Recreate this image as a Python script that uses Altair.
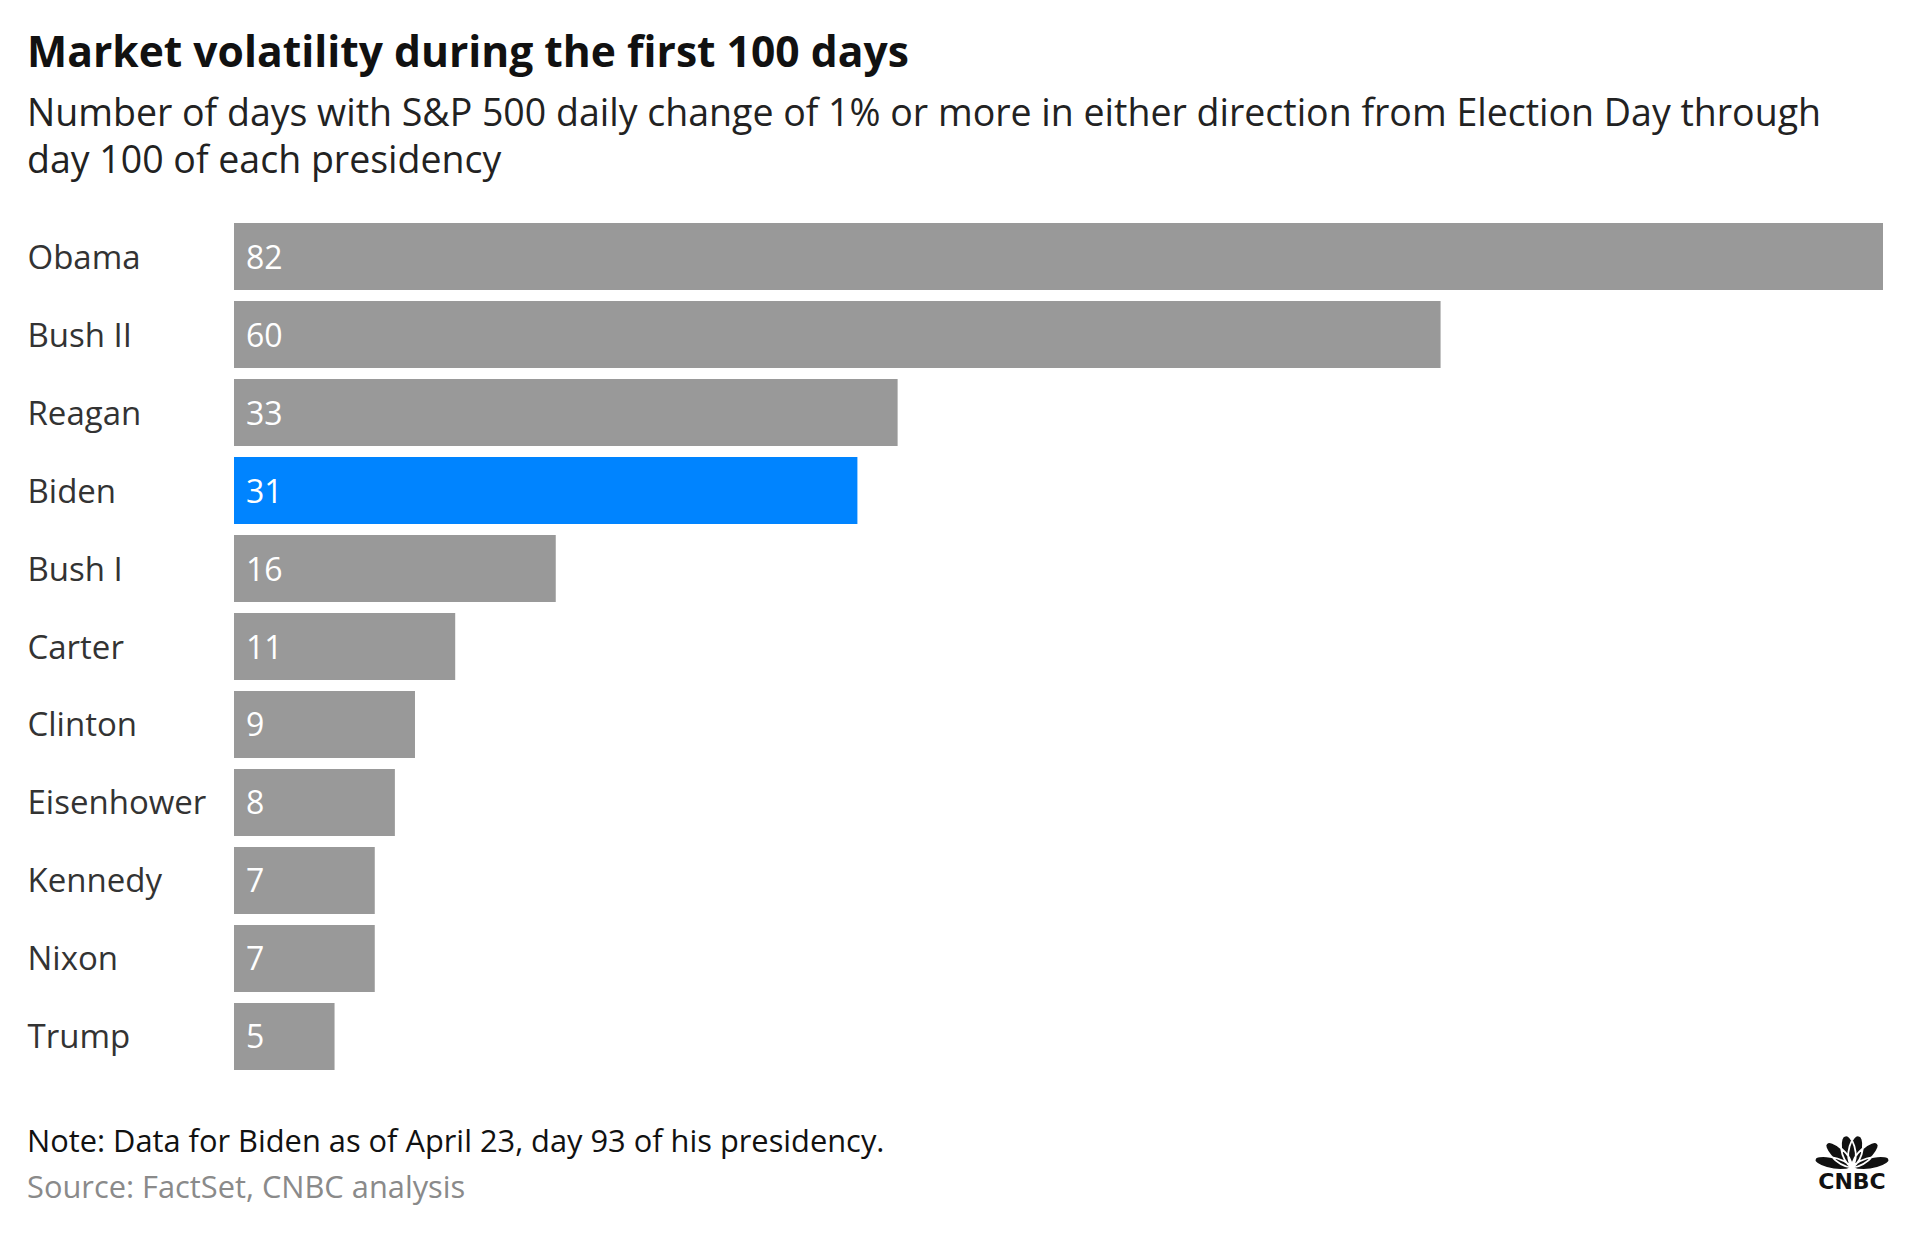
import math
import altair as alt
import pandas as pd

# ---- data ----
presidents = ["Obama", "Bush II", "Reagan", "Biden", "Bush I", "Carter",
              "Clinton", "Eisenhower", "Kennedy", "Nixon", "Trump"]
days = [82, 60, 33, 31, 16, 11, 9, 8, 7, 7, 5]
highlight = ["Biden"]

title_text = "Market volatility during the first 100 days"
subtitle_lines = [
    "Number of days with S&P 500 daily change of 1% or more in either direction from Election Day through",
    "day 100 of each presidency",
]
note_text = "Note: Data for Biden as of April 23, day 93 of his presidency."
source_text = "Source: FactSet, CNBC analysis"
logo_text = "CNBC"

df = pd.DataFrame({"president": presidents, "days": days})
df["is_hl"] = df["president"].isin(highlight)

FONT = "Open Sans"
W, H = 1649, 847
LABEL_PAD = 207


def peacock_path():
    # decorative logo glyph (unit box), six feathers fanning from a base point
    angles = [165, 131, 100, 80, 49, 15]
    parts = []
    bx, by = 0.0, 0.5
    ys = 0.85
    for a in angles:
        r = 0.95
        w = 0.3
        ra = math.radians(a)
        d = (math.cos(ra), -math.sin(ra))
        n = (math.sin(ra), math.cos(ra))

        def pt(t, s):
            return (bx + d[0] * t * r + n[0] * s,
                    by + ys * (d[1] * t * r + n[1] * s))
        c1 = pt(0.35, w)
        c2 = pt(1.12, 0.6 * w)
        c3 = pt(1.12, -0.6 * w)
        c4 = pt(0.35, -w)
        parts.append(
            "M{:.3f},{:.3f} C{:.3f},{:.3f} {:.3f},{:.3f} {:.3f},{:.3f} "
            "C{:.3f},{:.3f} {:.3f},{:.3f} {:.3f},{:.3f} Z".format(
                bx, by, *c1, *c2, *pt(1.08, 0),
                *c3, *c4, bx, by))
    return " ".join(parts)


y_enc = alt.Y(
    "president:N", sort=presidents,
    scale=alt.Scale(paddingInner=0.14, paddingOuter=0),
    axis=alt.Axis(title=None, domain=False, ticks=False, labelAlign="left",
                  labelPadding=LABEL_PAD, labelFont=FONT, labelFontSize=33,
                  labelColor="#333333", labelLimit=400, labelOffset=2),
)
x_enc = alt.X("days:Q", scale=alt.Scale(domain=[0, 82], nice=False, zero=True), axis=None)

bars = alt.Chart(df).mark_bar().encode(
    x=x_enc, y=y_enc,
    color=alt.when(alt.datum.is_hl).then(alt.value("#0084ff")).otherwise(alt.value("#999999")),
)

values = alt.Chart(df).mark_text(
    align="left", baseline="middle", dx=12, dy=2, color="white", font=FONT, fontSize=32
).encode(x=alt.datum(0), y=y_enc, text="days:Q")

note = alt.Chart(pd.DataFrame({"t": [note_text]})).mark_text(
    align="left", baseline="alphabetic", font=FONT, fontSize=30.8, color="#111111"
).encode(text="t:N", x=alt.value(-LABEL_PAD), y=alt.value(929))

source = alt.Chart(pd.DataFrame({"t": [source_text]})).mark_text(
    align="left", baseline="alphabetic", font=FONT, fontSize=30.8, color="#8a8a8a"
).encode(text="t:N", x=alt.value(-LABEL_PAD), y=alt.value(975))

logo_mark = alt.Chart(pd.DataFrame({"t": [logo_text]})).mark_point(
    shape=peacock_path(), filled=True, size=5600, fill="#111111", stroke="white",
    strokeWidth=1.8, opacity=1
).encode(x=alt.value(1618), y=alt.value(926))

logo_word = alt.Chart(pd.DataFrame({"t": [logo_text]})).mark_text(
    align="center", baseline="alphabetic", font="DejaVu Sans", fontWeight="bold",
    fontSize=22, color="#111111"
).encode(text="t:N", x=alt.value(1618), y=alt.value(966))

chart = alt.layer(bars, values, note, source, logo_mark, logo_word).properties(
    width=W, height=H,
    padding={"left": 19, "top": 24, "right": 8, "bottom": 10},
    title=alt.TitleParams(
        text=title_text, subtitle=subtitle_lines, anchor="start", frame="bounds",
        font=FONT, fontSize=42.6, fontWeight="bold", color="#111111",
        subtitleFont=FONT, subtitleFontSize=37.5, subtitleColor="#222222",
        subtitleLineHeight=46, subtitlePadding=21, offset=43,
    ),
).configure(background="white").configure_view(strokeWidth=0, stroke=None)

chart.save("out.html", embed_options={"renderer": "svg", "actions": False})
